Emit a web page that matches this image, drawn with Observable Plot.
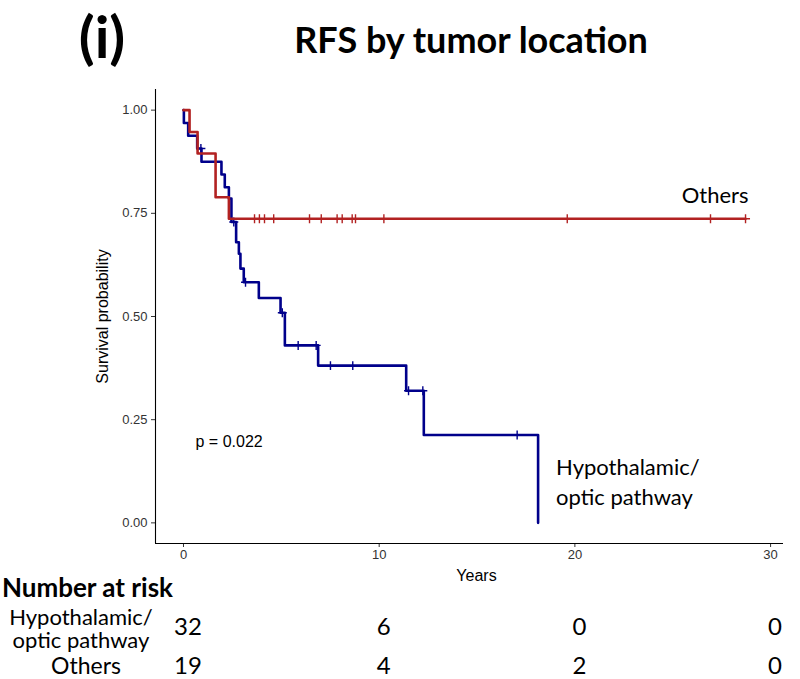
<!DOCTYPE html>
<html><head><meta charset="utf-8">
<script src="https://cdn.jsdelivr.net/npm/d3@7"></script>
<script src="https://cdn.jsdelivr.net/npm/@observablehq/plot@0.6"></script>
<style>
html,body{margin:0;padding:0;background:#fff;}
#wrap{position:relative;width:800px;height:679px;overflow:hidden;font-family:Lato,"Open Sans",sans-serif;color:#000;}
#chart{position:absolute;left:0;top:0;}
.lbl{position:absolute;white-space:nowrap;line-height:1;}
.multi{white-space:pre;text-align:center;}
</style></head><body>
<div id="wrap"><div id="chart"></div></div>
<script>
// ---- data ----
const groupNames = ["Hypothalamic/\noptic pathway", "Others"];
const groupColors = ["#00008b", "#b22222"];

// Hypothalamic/optic pathway: event times (years) and survival after each step
const hypoTime = [0, 0.02, 0.24, 0.70, 0.92, 1.94, 2.11, 2.32, 2.45, 2.69, 2.83, 2.91, 3.08, 3.85, 4.96, 5.18, 6.88, 11.38, 12.28, 18.12];
const hypoSurv = [1, 0.969, 0.938, 0.907, 0.875, 0.844, 0.813, 0.786, 0.729, 0.680, 0.652, 0.616, 0.583, 0.545, 0.509, 0.430, 0.381, 0.320, 0.213, 0];
const hypoCensor = [0.89, 2.57, 3.17, 5.05, 5.86, 6.78, 7.51, 8.65, 11.50, 12.23, 17.05];

// Others
const othersTime = [0, 0.31, 0.72, 1.64, 2.32];
const othersSurv = [1, 0.947, 0.895, 0.789, 0.737];
const othersCensor = [3.63, 3.88, 4.14, 4.61, 6.44, 7.04, 7.85, 8.11, 8.62, 8.79, 10.24, 19.61, 26.93, 28.72];

// Number at risk table
const riskTimes = [0, 10, 20, 30];
const hypoRisk = [32, 6, 0, 0];
const othersRisk = [19, 4, 2, 0];

const pValueText = "p = 0.022";
const xTicks = [0, 10, 20, 30];
const yTicks = [0, 0.25, 0.5, 0.75, 1];

// ---- build tidy tables ----
function stepValue(times, surv, t) {
  let v = surv[0];
  for (let i = 0; i < times.length; i++) if (times[i] <= t) v = surv[i];
  return v;
}
function curveData(times, surv, censor) {
  const pts = times.map((t, i) => ({time: t, surv: surv[i]}));
  const end = Math.max(times[times.length - 1], ...censor);
  if (end > times[times.length - 1]) pts.push({time: end, surv: surv[surv.length - 1]});
  return pts;
}
function censorData(times, surv, censor) {
  return censor.map(t => ({time: t, surv: stepValue(times, surv, t)}));
}
const hypoCurve = curveData(hypoTime, hypoSurv, hypoCensor);
const othersCurve = curveData(othersTime, othersSurv, othersCensor);
const hypoMarks = censorData(hypoTime, hypoSurv, hypoCensor);
const othersMarks = censorData(othersTime, othersSurv, othersCensor);
const hypoEnd = hypoCurve[hypoCurve.length - 1];
const othersEnd = othersCurve[othersCurve.length - 1];

const xDomain = [-1.43, 30.66];
const yDomain = [-0.05, 1.05];
const sans = "'Liberation Sans', Arial, sans-serif";

const plot = Plot.plot({
  width: 800,
  height: 590,
  marginLeft: 155,
  marginRight: 17,
  marginTop: 89,
  marginBottom: 47,
  style: {fontFamily: sans, background: "white"},
  x: {domain: xDomain},
  y: {domain: yDomain},
  marks: [
    Plot.axisX({ticks: xTicks, tickSize: 4, tickPadding: 2, fontSize: 13, color: "#333", stroke: "#333", label: null}),
    Plot.axisY({ticks: yTicks, tickSize: 4, tickPadding: 4, fontSize: 13, color: "#333", stroke: "#333", tickFormat: d3.format(".2f"), label: null}),
    Plot.ruleX([xDomain[0]], {stroke: "black", strokeWidth: 1.1}),
    Plot.ruleY([yDomain[0]], {stroke: "black", strokeWidth: 1.1}),
    Plot.text(["Survival probability"], {frameAnchor: "left", textAnchor: "middle", lineAnchor: "middle", rotate: -90, dx: -53, fontSize: 16, fill: "black"}),
    Plot.text(["Years"], {frameAnchor: "bottom", textAnchor: "middle", dy: 32, dx: 7, lineAnchor: "middle", fontSize: 16, fill: "black"}),
    Plot.line(hypoCurve, {x: "time", y: "surv", curve: "step-after", stroke: groupColors[0], strokeWidth: 2.6}),
    Plot.dot(hypoMarks, {x: "time", y: "surv", symbol: "plus", r: 3, stroke: groupColors[0], strokeWidth: 1.4}),
    Plot.line(othersCurve, {x: "time", y: "surv", curve: "step-after", stroke: groupColors[1], strokeWidth: 2.6}),
    Plot.dot(othersMarks, {x: "time", y: "surv", symbol: "plus", r: 3, stroke: groupColors[1], strokeWidth: 1.4}),
    Plot.text([othersEnd], {x: "time", y: "surv", text: () => groupNames[1], textAnchor: "end", lineAnchor: "middle", dx: 3, dy: -23, fontSize: 22, fontFamily: "Lato", fill: "black"}),
    Plot.text([hypoEnd], {x: "time", y: "surv", text: () => groupNames[0], textAnchor: "start", lineAnchor: "middle", lineHeight: 1.36, dx: 18, dy: -42, fontSize: 22, fontFamily: "Lato", fill: "black"}),
    Plot.text([pValueText], {frameAnchor: "bottom-left", textAnchor: "start", lineAnchor: "middle", dx: 40, dy: -102, fontSize: 16, fill: "black"})
  ]
});
document.getElementById("chart").appendChild(plot);

// ---- HTML text: panel tag, title, risk table ----
const wrap = document.getElementById("wrap");
function place(text, x, y, {size = 22, weight = 400, anchor = "middle", lineHeight = null, cls = ""} = {}) {
  const d = document.createElement("div");
  d.className = "lbl " + cls;
  d.textContent = text;
  d.style.left = x + "px";
  d.style.top = y + "px";
  d.style.fontSize = size + "px";
  d.style.fontWeight = weight;
  if (lineHeight) d.style.lineHeight = lineHeight + "px";
  const tx = anchor === "start" ? "0" : anchor === "end" ? "-100%" : "-50%";
  d.style.transform = `translate(${tx},-50%)`;
  wrap.appendChild(d);
  return d;
}
place("(i)", 102, 36, {size: 58, weight: 700});
place("RFS by tumor location", 471, 39, {size: 36, weight: 700});
place("Number at risk", 2, 587, {size: 26, weight: 700, anchor: "start"});
place(groupNames[0], 81, 628, {size: 22, lineHeight: 23, cls: "multi"});
place(groupNames[1], 86, 665, {size: 23});
const xs = plot.scale("x");
riskTimes.forEach((t, i) => {
  const px = xs.apply(t) + 5;
  place(String(hypoRisk[i]), px, 626, {size: 24});
  place(String(othersRisk[i]), px, 665, {size: 24});
});
</script>
</body></html>
